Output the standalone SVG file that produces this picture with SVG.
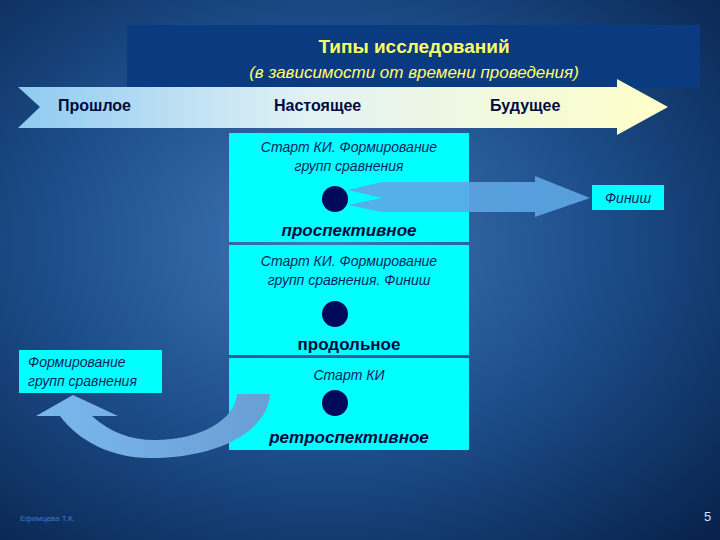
<svg xmlns="http://www.w3.org/2000/svg" width="720" height="540" viewBox="0 0 720 540">
<defs>
<radialGradient id="bg" cx="0.45" cy="0.45" r="0.75">
<stop offset="0" stop-color="#3f78b4"/><stop offset="0.5" stop-color="#1d4f8c"/><stop offset="1" stop-color="#08244e"/>
</radialGradient>
<linearGradient id="ag" x1="0" x2="1" y1="0" y2="0">
<stop offset="0" stop-color="#8fcaf2"/><stop offset="0.45" stop-color="#e2f2f4"/><stop offset="1" stop-color="#ffffc8"/>
</linearGradient>
<linearGradient id="cg" x1="0" x2="1" y1="0" y2="0">
<stop offset="0" stop-color="#7ab8ee"/><stop offset="1" stop-color="#6a9ed4"/>
</linearGradient>
<style>
.box{fill:#00ffff}
.dot{fill:#000a5c}
.it{font-family:"Liberation Sans",Arial,sans-serif;font-style:italic;font-size:14px;fill:#0a1f60;text-anchor:middle}
.bl{font-family:"Liberation Sans",Arial,sans-serif;font-weight:bold;font-size:17px;fill:#000a40;text-anchor:middle}
.hd{font-family:"Liberation Sans",Arial,sans-serif;font-weight:bold;font-size:16px;fill:#000a40}
</style>
</defs>
<rect width="720" height="540" fill="url(#bg)"/>
<g id="title">
<rect x="127" y="25" width="573" height="63" fill="#0a3a80"/>
<text x="414" y="53" font-family="Liberation Sans,Arial,sans-serif" font-weight="bold" font-size="19" fill="#ffff66" text-anchor="middle">Типы исследований</text>
<text x="414" y="78" font-family="Liberation Sans,Arial,sans-serif" font-style="italic" font-size="17" fill="#ffff66" text-anchor="middle">(в зависимости от времени проведения)</text>
</g>
<g id="timeline">
<polygon points="18,87 617,87 617,79 668,107 617,135 617,128 18,128 40,107" fill="url(#ag)"/>
<text class="hd" x="58" y="111">Прошлое</text>
<text class="hd" x="274" y="111">Настоящее</text>
<text class="hd" x="490" y="111">Будущее</text>
</g>
<g id="prospective">
<rect class="box" x="229" y="133" width="240" height="109"/>
<text class="it" x="349" y="152">Старт КИ. Формирование</text>
<text class="it" x="349" y="171">групп сравнения</text>
<text class="bl" x="349" y="236" font-style="italic">проспективное</text>
</g>
<g id="finish">
<rect class="box" x="592" y="185" width="72" height="25"/>
<text class="it" x="628" y="203" font-size="13">Финиш</text>
</g>
<g id="longitudinal">
<rect class="box" x="229" y="245" width="240" height="110"/>
<text class="it" x="349" y="266">Старт КИ. Формирование</text>
<text class="it" x="349" y="285">групп сравнения. Финиш</text>
<ellipse class="dot" cx="335" cy="314" rx="13" ry="13"/>
<text class="bl" x="349" y="350">продольное</text>
</g>
<g id="retrospective">
<rect class="box" x="229" y="358" width="240" height="92"/>
<text class="it" x="349" y="380">Старт КИ</text>
<ellipse class="dot" cx="335" cy="403" rx="13" ry="13"/>
<text class="bl" x="349" y="443" font-style="italic">ретроспективное</text>
</g>
<g id="formation">
<rect class="box" x="19" y="350" width="143" height="43"/>
<text class="it" x="28" y="367" style="text-anchor:start">Формирование</text>
<text class="it" x="28" y="386" style="text-anchor:start">групп сравнения</text>
</g>
<g id="connectors">
<polygon points="348,190 382,182 535,182 535,176 590,198 535,217 535,212 382,212 348,205 382,198" fill="#5ea6e6" opacity="0.9"/>
<path d="M237,394 L270,394 C268,430 220,458 150,458 C110,458 78,440 60,416 L36,416 L73,395 L118,416 L92,416 C110,432 130,440 155,440 C200,440 235,420 237,394 Z" fill="url(#cg)"/>
</g>
<ellipse class="dot" cx="335" cy="199" rx="13" ry="13"/>
<text x="20" y="521" font-family="Liberation Sans,Arial,sans-serif" font-size="8" fill="#3a78c8">Ефимцева Т.К.</text>
<text x="704" y="521" font-family="Liberation Sans,Arial,sans-serif" font-size="13" fill="#cfe4ff">5</text>
</svg>
